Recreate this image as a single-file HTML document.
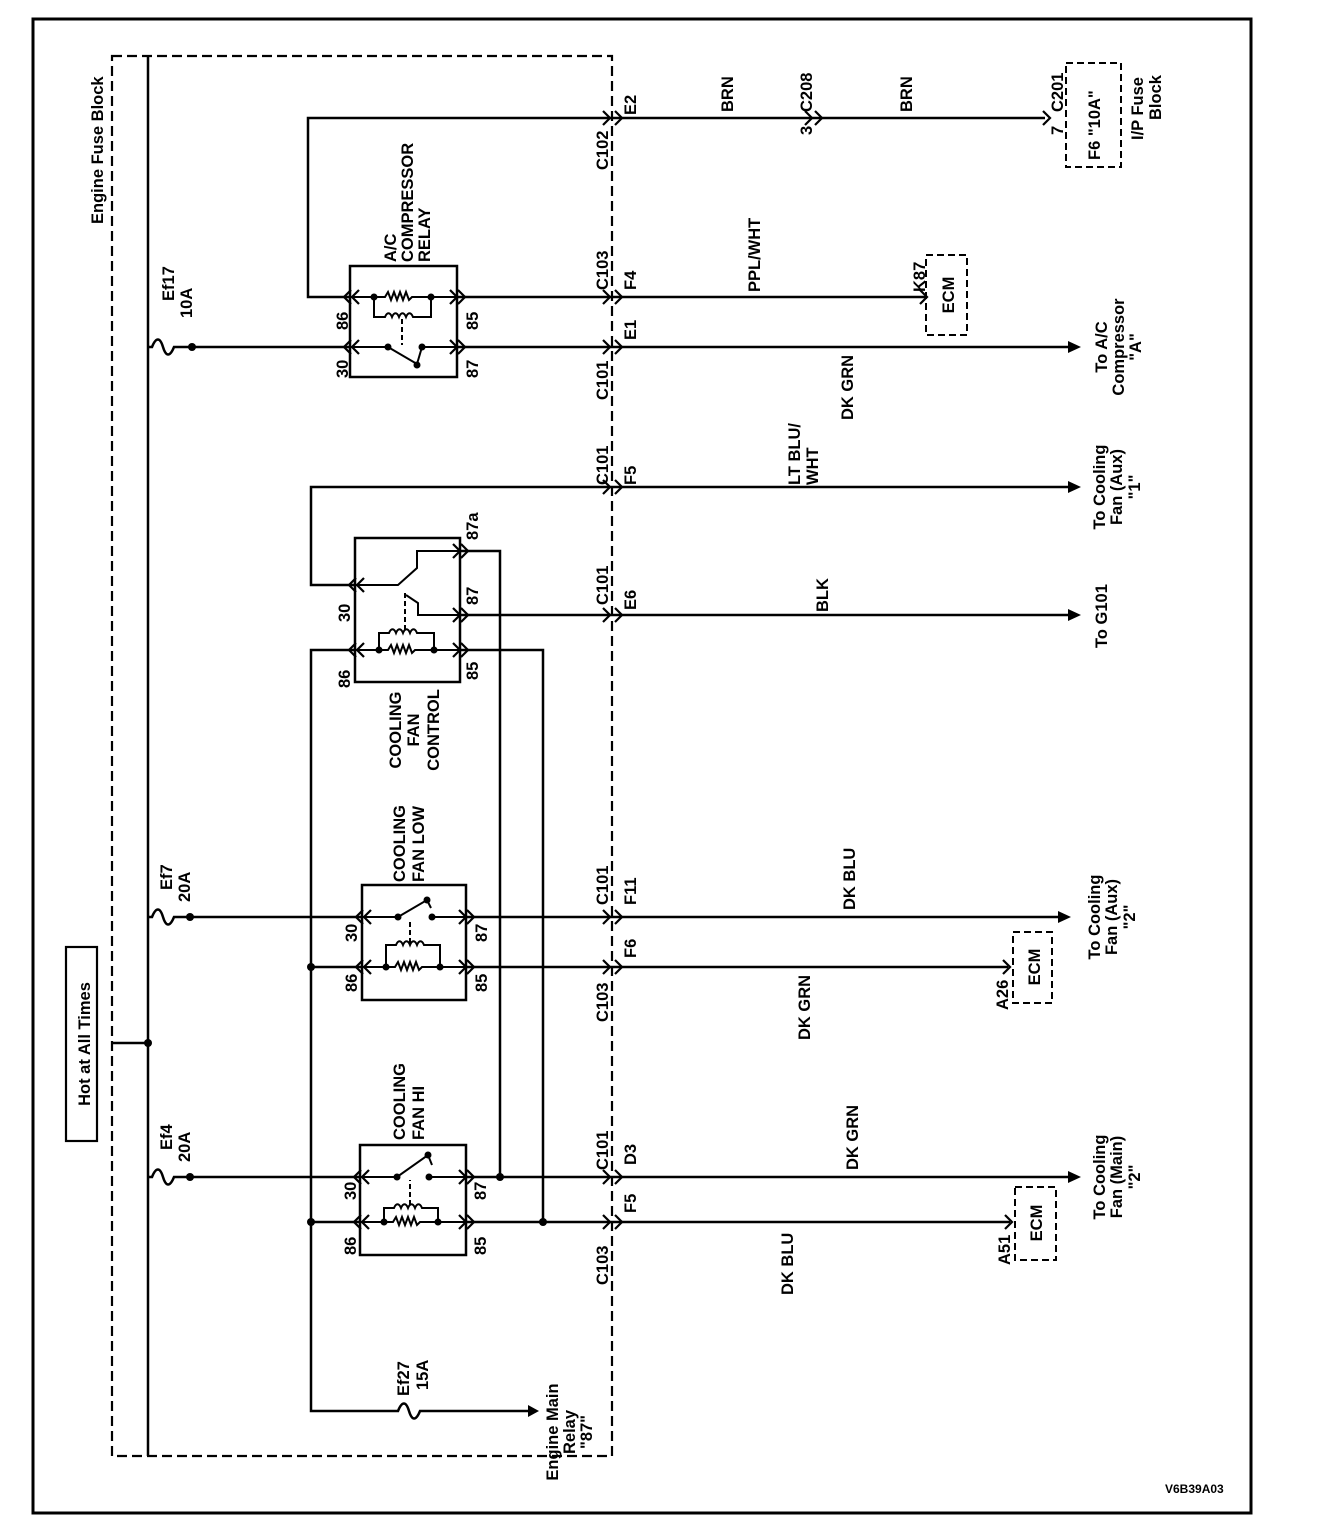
<!DOCTYPE html>
<html><head><meta charset="utf-8"><style>
html,body{margin:0;padding:0;background:#fff}
svg{display:block}
text{font-family:"Liberation Sans",sans-serif;font-size:16.5px;font-weight:bold;fill:#000}
</style></head><body>
<svg width="1328" height="1540" viewBox="0 0 1328 1540" xmlns="http://www.w3.org/2000/svg">
<defs>
<path id="cl" d="M7,-7 L0,0 L7,7" fill="none" stroke="#000" stroke-width="2.2"/>
<path id="cr" d="M-7,-7 L0,0 L-7,7" fill="none" stroke="#000" stroke-width="2.2"/>
</defs>
<rect x="33" y="19" width="1218" height="1494" fill="none" stroke="#000" stroke-width="3"/>
<rect x="112" y="56" width="500" height="1400" fill="none" stroke="#000" stroke-width="2.2" stroke-dasharray="10,5"/>
<rect x="66" y="947" width="31" height="194" fill="none" stroke="#000" stroke-width="2.2"/>

<g fill="none" stroke="#000" stroke-width="2.5">
<path d="M148,56 V1456 M112,1043 H148"/>
<path d="M148,347 H152 c4,-10 8,-10 11,0 s7,10 11,0 H350"/>
<path d="M148,917 H152 c4,-10 8,-10 11,0 s7,10 11,0 H362"/>
<path d="M148,1177 H152 c4,-10 8,-10 11,0 s7,10 11,0 H360"/>
<path d="M350,297 H308 V118 H1045"/>
<path d="M457,297 H925"/>
<path d="M457,347 H1070"/>
<path d="M355,585 H311 V487 H1070"/>
<path d="M460,615 H1070"/>
<path d="M460,551 H500 V1177"/>
<path d="M460,650 H543 V1222"/>
<path d="M355,650 H311 V1411 H398 c4,-10 8,-10 11,0 s7,10 11,0 H530"/>
<path d="M466,917 H1060"/>
<path d="M311,967 H362 M466,967 H1008"/>
<path d="M466,1177 H1070"/>
<path d="M311,1222 H360 M466,1222 H1010"/>
<rect x="350" y="266" width="107" height="111"/>
<rect x="355" y="538" width="105" height="144"/>
<rect x="362" y="885" width="104" height="115"/>
<rect x="360" y="1145" width="106" height="110"/>
</g>

<g fill="none" stroke="#000" stroke-width="2">
<path d="M350,297 H385 l3,-5 3,8 3,-8 3,8 3,-8 3,8 3,-8 3,8 3,-3 H457"/>
<path d="M374,297 V317 H385 c2,-5 5,-5 7,0 c2,-5 5,-5 7,0 c2,-5 5,-5 7,0 c2,-5 5,-5 7,0 H431 V297"/>
<path d="M402,319 V345" stroke-dasharray="5,3"/>
<path d="M350,347 H388 L417,364 L422,347 H457"/>
<path d="M355,650 H388 l3,-5 3,8 3,-8 3,8 3,-8 3,8 3,-8 3,8 3,-3 H460"/>
<path d="M379,650 V633 H389 c2,-5 5,-5 7,0 c2,-5 5,-5 7,0 c2,-5 5,-5 7,0 c2,-5 5,-5 7,0 H434 V650"/>
<path d="M405,630 V590" stroke-dasharray="5,3"/>
<path d="M355,585 H398 L417,568 V551 H460"/>
<path d="M406,595 L418,603 V615 H460" />
<path d="M362,967 H395 l3,-5 3,8 3,-8 3,8 3,-8 3,8 3,-8 3,8 3,-3 H466"/>
<path d="M386,967 V945 H396 c2,-5 5,-5 7,0 c2,-5 5,-5 7,0 c2,-5 5,-5 7,0 c2,-5 5,-5 7,0 H440 V967"/>
<path d="M410,943 V920" stroke-dasharray="5,3"/>
<path d="M362,917 H398 L427,900 L431,908 M432,917 H466"/>
<path d="M360,1222 H393 l3,-5 3,8 3,-8 3,8 3,-8 3,8 3,-8 3,8 3,-3 H466"/>
<path d="M384,1222 V1208 H394 c2,-5 5,-5 7,0 c2,-5 5,-5 7,0 c2,-5 5,-5 7,0 c2,-5 5,-5 7,0 H438 V1222"/>
<path d="M410,1205 V1180" stroke-dasharray="5,3"/>
<path d="M360,1177 H397 L428,1155 L432,1165 M429,1177 H466"/>
</g>
<g fill="#000">
<circle cx="374" cy="297" r="3.5"/><circle cx="431" cy="297" r="3.5"/><circle cx="388" cy="347" r="3.5"/><circle cx="417" cy="365" r="3.5"/><circle cx="422" cy="347" r="3.5"/>
<circle cx="379" cy="650" r="3.5"/><circle cx="434" cy="650" r="3.5"/>
<circle cx="386" cy="967" r="3.5"/><circle cx="440" cy="967" r="3.5"/><circle cx="398" cy="917" r="3.5"/><circle cx="427" cy="900" r="3.5"/><circle cx="432" cy="917" r="3.5"/>
<circle cx="384" cy="1222" r="3.5"/><circle cx="438" cy="1222" r="3.5"/><circle cx="397" cy="1177" r="3.5"/><circle cx="428" cy="1155" r="3.5"/><circle cx="429" cy="1177" r="3.5"/>
<circle cx="148" cy="1043" r="4"/><circle cx="192" cy="347" r="4"/><circle cx="190" cy="917" r="4"/><circle cx="190" cy="1177" r="4"/>
<circle cx="311" cy="967" r="4"/><circle cx="311" cy="1222" r="4"/><circle cx="500" cy="1177" r="4"/><circle cx="543" cy="1222" r="4"/>
<polygon points="1068,341 1081,347 1068,353"/>
<polygon points="1068,481 1081,487 1068,493"/>
<polygon points="1068,609 1081,615 1068,621"/>
<polygon points="1058,911 1071,917 1058,923"/>
<polygon points="1068,1171 1081,1177 1068,1183"/>
<polygon points="528,1405 539,1411 528,1417"/>
</g>

<g>
<use href="#cl" x="344" y="297"/><use href="#cl" x="352" y="297"/><use href="#cr" x="457" y="297"/><use href="#cr" x="465" y="297"/>
<use href="#cl" x="344" y="347"/><use href="#cl" x="352" y="347"/><use href="#cr" x="457" y="347"/><use href="#cr" x="465" y="347"/>
<use href="#cl" x="349" y="585"/><use href="#cl" x="357" y="585"/><use href="#cl" x="349" y="650"/><use href="#cl" x="357" y="650"/>
<use href="#cr" x="460" y="551"/><use href="#cr" x="468" y="551"/><use href="#cr" x="460" y="615"/><use href="#cr" x="468" y="615"/><use href="#cr" x="460" y="650"/><use href="#cr" x="468" y="650"/>
<use href="#cl" x="356" y="917"/><use href="#cl" x="364" y="917"/><use href="#cl" x="356" y="967"/><use href="#cl" x="364" y="967"/>
<use href="#cr" x="466" y="917"/><use href="#cr" x="474" y="917"/><use href="#cr" x="466" y="967"/><use href="#cr" x="474" y="967"/>
<use href="#cl" x="354" y="1177"/><use href="#cl" x="362" y="1177"/><use href="#cl" x="354" y="1222"/><use href="#cl" x="362" y="1222"/>
<use href="#cr" x="466" y="1177"/><use href="#cr" x="474" y="1177"/><use href="#cr" x="466" y="1222"/><use href="#cr" x="474" y="1222"/>
<use href="#cr" x="610" y="118"/><use href="#cr" x="622" y="118"/>
<use href="#cr" x="610" y="297"/><use href="#cr" x="622" y="297"/>
<use href="#cr" x="610" y="347"/><use href="#cr" x="622" y="347"/>
<use href="#cr" x="610" y="487"/><use href="#cr" x="622" y="487"/>
<use href="#cr" x="610" y="615"/><use href="#cr" x="622" y="615"/>
<use href="#cr" x="610" y="917"/><use href="#cr" x="622" y="917"/>
<use href="#cr" x="610" y="967"/><use href="#cr" x="622" y="967"/>
<use href="#cr" x="610" y="1177"/><use href="#cr" x="622" y="1177"/>
<use href="#cr" x="610" y="1222"/><use href="#cr" x="622" y="1222"/>
<use href="#cr" x="812" y="118"/><use href="#cr" x="822" y="118"/>
<use href="#cr" x="1050" y="118"/><use href="#cr" x="927" y="297"/>
<use href="#cr" x="1010" y="967"/><use href="#cr" x="1012" y="1222"/>
</g>

<g fill="none" stroke="#000" stroke-width="2" stroke-dasharray="7,4">
<rect x="1066" y="63" width="55" height="104"/>
<rect x="926" y="255" width="41" height="80"/>
<rect x="1013" y="932" width="39" height="71"/>
<rect x="1015" y="1187" width="41" height="73"/>
</g>

<g>
<text transform="translate(103,224) rotate(-90)">Engine Fuse Block</text>
<text transform="translate(90,1044) rotate(-90)" text-anchor="middle">Hot at All Times</text>
<text transform="translate(174,301) rotate(-90)">Ef17</text>
<text transform="translate(192,318) rotate(-90)">10A</text>
<text transform="translate(172,890) rotate(-90)">Ef7</text>
<text transform="translate(190,902) rotate(-90)">20A</text>
<text transform="translate(172,1150) rotate(-90)">Ef4</text>
<text transform="translate(190,1162) rotate(-90)">20A</text>
<text transform="translate(409,1396) rotate(-90)">Ef27</text>
<text transform="translate(428,1390) rotate(-90)">15A</text>
<text transform="translate(558,1432) rotate(-90)" text-anchor="middle">Engine Main</text>
<text transform="translate(575,1432) rotate(-90)" text-anchor="middle">Relay</text>
<text transform="translate(592,1432) rotate(-90)" text-anchor="middle">"87"</text>

<text transform="translate(396,262) rotate(-90)">A/C</text>
<text transform="translate(413,262) rotate(-90)">COMPRESSOR</text>
<text transform="translate(430,262) rotate(-90)">RELAY</text>
<text transform="translate(348,330) rotate(-90)">86</text>
<text transform="translate(348,378) rotate(-90)">30</text>
<text transform="translate(478,330) rotate(-90)">85</text>
<text transform="translate(478,378) rotate(-90)">87</text>

<text transform="translate(608,170) rotate(-90)">C102</text>
<text transform="translate(636,115) rotate(-90)">E2</text>
<text transform="translate(608,290) rotate(-90)">C103</text>
<text transform="translate(636,290) rotate(-90)">F4</text>
<text transform="translate(636,340) rotate(-90)">E1</text>
<text transform="translate(608,400) rotate(-90)">C101</text>
<text transform="translate(733,112) rotate(-90)">BRN</text>
<text transform="translate(812,112) rotate(-90)">C208</text>
<text transform="translate(812,135) rotate(-90)">3</text>
<text transform="translate(912,112) rotate(-90)">BRN</text>
<text transform="translate(1063,112) rotate(-90)">C201</text>
<text transform="translate(1063,135) rotate(-90)">7</text>
<text transform="translate(1100,160) rotate(-90)">F6 "10A"</text>
<text transform="translate(1143,140) rotate(-90)">I/P Fuse</text>
<text transform="translate(1161,120) rotate(-90)">Block</text>
<text transform="translate(760,292) rotate(-90)">PPL/WHT</text>
<text transform="translate(925,292) rotate(-90)">K87</text>
<text transform="translate(954,295) rotate(-90)" text-anchor="middle">ECM</text>
<text transform="translate(853,420) rotate(-90)">DK GRN</text>
<text transform="translate(1107,347) rotate(-90)" text-anchor="middle">To A/C</text>
<text transform="translate(1124,347) rotate(-90)" text-anchor="middle">Compressor</text>
<text transform="translate(1141,347) rotate(-90)" text-anchor="middle">"A"</text>

<text transform="translate(608,485) rotate(-90)">C101</text>
<text transform="translate(636,485) rotate(-90)">F5</text>
<text transform="translate(800,485) rotate(-90)">LT BLU/</text>
<text transform="translate(818,485) rotate(-90)">WHT</text>
<text transform="translate(1105,487) rotate(-90)" text-anchor="middle">To Cooling</text>
<text transform="translate(1122,487) rotate(-90)" text-anchor="middle">Fan (Aux)</text>
<text transform="translate(1140,487) rotate(-90)" text-anchor="middle">"1"</text>
<text transform="translate(478,540) rotate(-90)">87a</text>
<text transform="translate(350,622) rotate(-90)">30</text>
<text transform="translate(350,688) rotate(-90)">86</text>
<text transform="translate(478,605) rotate(-90)">87</text>
<text transform="translate(478,680) rotate(-90)">85</text>
<text transform="translate(608,605) rotate(-90)">C101</text>
<text transform="translate(636,610) rotate(-90)">E6</text>
<text transform="translate(828,612) rotate(-90)">BLK</text>
<text transform="translate(1107,648) rotate(-90)">To G101</text>
<text transform="translate(401,730) rotate(-90)" text-anchor="middle">COOLING</text>
<text transform="translate(419,730) rotate(-90)" text-anchor="middle">FAN</text>
<text transform="translate(439,730) rotate(-90)" text-anchor="middle">CONTROL</text>

<text transform="translate(405,882) rotate(-90)">COOLING</text>
<text transform="translate(424,882) rotate(-90)">FAN LOW</text>
<text transform="translate(357,942) rotate(-90)">30</text>
<text transform="translate(357,992) rotate(-90)">86</text>
<text transform="translate(487,942) rotate(-90)">87</text>
<text transform="translate(487,992) rotate(-90)">85</text>
<text transform="translate(608,905) rotate(-90)">C101</text>
<text transform="translate(636,905) rotate(-90)">F11</text>
<text transform="translate(636,958) rotate(-90)">F6</text>
<text transform="translate(608,1022) rotate(-90)">C103</text>
<text transform="translate(855,910) rotate(-90)">DK BLU</text>
<text transform="translate(810,1040) rotate(-90)">DK GRN</text>
<text transform="translate(1008,1010) rotate(-90)">A26</text>
<text transform="translate(1040,967) rotate(-90)" text-anchor="middle">ECM</text>
<text transform="translate(1100,917) rotate(-90)" text-anchor="middle">To Cooling</text>
<text transform="translate(1117,917) rotate(-90)" text-anchor="middle">Fan (Aux)</text>
<text transform="translate(1135,917) rotate(-90)" text-anchor="middle">"2"</text>

<text transform="translate(405,1140) rotate(-90)">COOLING</text>
<text transform="translate(424,1140) rotate(-90)">FAN HI</text>
<text transform="translate(356,1200) rotate(-90)">30</text>
<text transform="translate(356,1255) rotate(-90)">86</text>
<text transform="translate(486,1200) rotate(-90)">87</text>
<text transform="translate(486,1255) rotate(-90)">85</text>
<text transform="translate(608,1170) rotate(-90)">C101</text>
<text transform="translate(636,1165) rotate(-90)">D3</text>
<text transform="translate(636,1213) rotate(-90)">F5</text>
<text transform="translate(608,1285) rotate(-90)">C103</text>
<text transform="translate(858,1170) rotate(-90)">DK GRN</text>
<text transform="translate(793,1295) rotate(-90)">DK BLU</text>
<text transform="translate(1010,1265) rotate(-90)">A51</text>
<text transform="translate(1042,1223) rotate(-90)" text-anchor="middle">ECM</text>
<text transform="translate(1105,1177) rotate(-90)" text-anchor="middle">To Cooling</text>
<text transform="translate(1122,1177) rotate(-90)" text-anchor="middle">Fan (Main)</text>
<text transform="translate(1140,1177) rotate(-90)" text-anchor="middle">"2"</text>
</g>
<text x="1165" y="1493" style="font-size:12px">V6B39A03</text>
</svg>
</body></html>
